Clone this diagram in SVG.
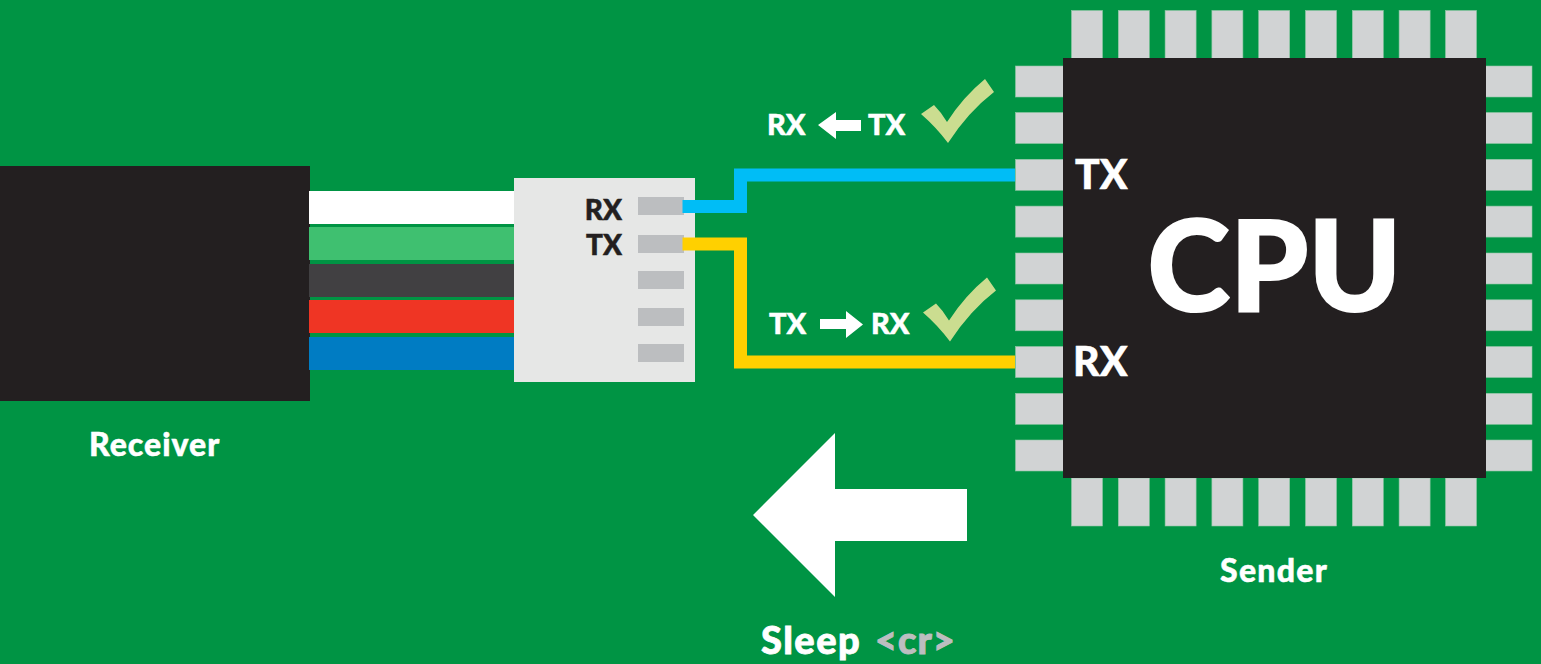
<svg xmlns="http://www.w3.org/2000/svg" width="1541" height="664" viewBox="0 0 1541 664">
<defs>
<path id="check" d="M921 114L934 105Q941 112 947 122Q963 97 985 79L994 92Q968 112 948 143Q936 127 921 114Z"/>
</defs>
<style>
text{font-family:"Lato","Open Sans","Liberation Sans",sans-serif;font-weight:900;fill:#fff;stroke:#fff;stroke-width:.5}
text.k{fill:#231f20;stroke:#231f20}
text.g{fill:#bcbec0;stroke:#bcbec0;stroke-width:1}
.pin{fill:#d1d3d4;stroke:#8fc7a6;stroke-width:.6}
.pad{fill:#bcbec0}
.wire{fill:none;stroke-width:13}
.dark{fill:#231f20}
.chk{fill:#cbdd90}
</style>
<rect id="background" width="1541" height="664" fill="#009444"/>
<g id="receiver">
<rect class="dark" x="0" y="166" width="310" height="235"/>
<rect x="309" y="191" width="205" height="33" fill="#fff"/>
<rect x="309" y="227" width="205" height="33" fill="#3fc070"/>
<rect x="309" y="264" width="205" height="33" fill="#414042"/>
<rect x="309" y="300" width="205" height="33" fill="#ef3524"/>
<rect x="309" y="337" width="205" height="33" fill="#007cc3"/>
<text x="89" y="456" font-size="32" letter-spacing="1">Receiver</text>
</g>
<g id="connector-block">
<rect x="514" y="178" width="181" height="204" fill="#e6e7e6"/>
<rect class="pad" x="638" y="197" width="46" height="18"/>
<rect class="pad" x="638" y="235" width="46" height="18"/>
<rect class="pad" x="638" y="271" width="46" height="18"/>
<rect class="pad" x="638" y="308" width="46" height="18"/>
<rect class="pad" x="638" y="344" width="46" height="18"/>
<text class="k" x="622" y="220" font-size="28" text-anchor="end">RX</text>
<text class="k" x="622" y="255" font-size="28" text-anchor="end">TX</text>
</g>
<g id="sender">
<g id="pins-top">
<rect class="pin" x="1071.500" y="10.500" width="31" height="48"/>
<rect class="pin" x="1118.300" y="10.500" width="31" height="48"/>
<rect class="pin" x="1165.100" y="10.500" width="31" height="48"/>
<rect class="pin" x="1211.900" y="10.500" width="31" height="48"/>
<rect class="pin" x="1258.700" y="10.500" width="31" height="48"/>
<rect class="pin" x="1305.500" y="10.500" width="31" height="48"/>
<rect class="pin" x="1352.300" y="10.500" width="31" height="48"/>
<rect class="pin" x="1399.100" y="10.500" width="31" height="48"/>
<rect class="pin" x="1445.500" y="10.500" width="31" height="48"/>
</g>
<g id="pins-bottom">
<rect class="pin" x="1071.500" y="478" width="31" height="48"/>
<rect class="pin" x="1118.300" y="478" width="31" height="48"/>
<rect class="pin" x="1165.100" y="478" width="31" height="48"/>
<rect class="pin" x="1211.900" y="478" width="31" height="48"/>
<rect class="pin" x="1258.700" y="478" width="31" height="48"/>
<rect class="pin" x="1305.500" y="478" width="31" height="48"/>
<rect class="pin" x="1352.300" y="478" width="31" height="48"/>
<rect class="pin" x="1399.100" y="478" width="31" height="48"/>
<rect class="pin" x="1445.500" y="478" width="31" height="48"/>
</g>
<g id="pins-left">
<rect class="pin" x="1015.500" y="66" width="48" height="31"/>
<rect class="pin" x="1015.500" y="112.500" width="48" height="31"/>
<rect class="pin" x="1015.500" y="159.300" width="48" height="31"/>
<rect class="pin" x="1015.500" y="206.100" width="48" height="31"/>
<rect class="pin" x="1015.500" y="253" width="48" height="31"/>
<rect class="pin" x="1015.500" y="299.800" width="48" height="31"/>
<rect class="pin" x="1015.500" y="346.500" width="48" height="31"/>
<rect class="pin" x="1015.500" y="393.300" width="48" height="31"/>
<rect class="pin" x="1015.500" y="440" width="48" height="31"/>
</g>
<g id="pins-right">
<rect class="pin" x="1485.500" y="66" width="46.500" height="31"/>
<rect class="pin" x="1485.500" y="112.500" width="46.500" height="31"/>
<rect class="pin" x="1485.500" y="159.300" width="46.500" height="31"/>
<rect class="pin" x="1485.500" y="206.100" width="46.500" height="31"/>
<rect class="pin" x="1485.500" y="253" width="46.500" height="31"/>
<rect class="pin" x="1485.500" y="299.800" width="46.500" height="31"/>
<rect class="pin" x="1485.500" y="346.500" width="46.500" height="31"/>
<rect class="pin" x="1485.500" y="393.300" width="46.500" height="31"/>
<rect class="pin" x="1485.500" y="440" width="46.500" height="31"/>
</g>
<rect class="dark" x="1063" y="58" width="423" height="420"/>
<text x="1274.500" y="311" font-size="125" text-anchor="middle" style="stroke-width:2">CPU</text>
<text x="1075" y="189" font-size="41">TX</text>
<text x="1073" y="376" font-size="41">RX</text>
<text x="1220" y="582" font-size="32" letter-spacing="1.300">Sender</text>
</g>
<g id="connectors">
<path class="wire" stroke="#00bdf6" d="M682.500 206.500H740.500V175H1015"/>
<path class="wire" stroke="#ffd000" d="M682.500 244H740.500V362H1015"/>
</g>
<g id="label-rx-tx">
<text x="767" y="135" font-size="29">RX</text>
<path fill="#fff" d="M818 125L836 112V120H861V131H836V139Z"/>
<text x="868" y="135" font-size="29">TX</text>
<use href="#check" class="chk"/>
</g>
<g id="label-tx-rx">
<text x="769" y="334" font-size="29">TX</text>
<path fill="#fff" d="M820 319H846V311L863 324.500L846 338V329H820Z"/>
<text x="871" y="334" font-size="29">RX</text>
<use href="#check" class="chk" x="2" y="198.500"/>
</g>
<g id="direction-arrow">
<path fill="#fff" d="M753 515L835 433V489H967V541H835V597Z"/>
<text x="761" y="654" font-size="38" letter-spacing="1.500" style="stroke-width:.8">Sleep</text>
<text class="g" x="875" y="654" font-size="38" letter-spacing="1">&lt;cr&gt;</text>
</g>
</svg>
